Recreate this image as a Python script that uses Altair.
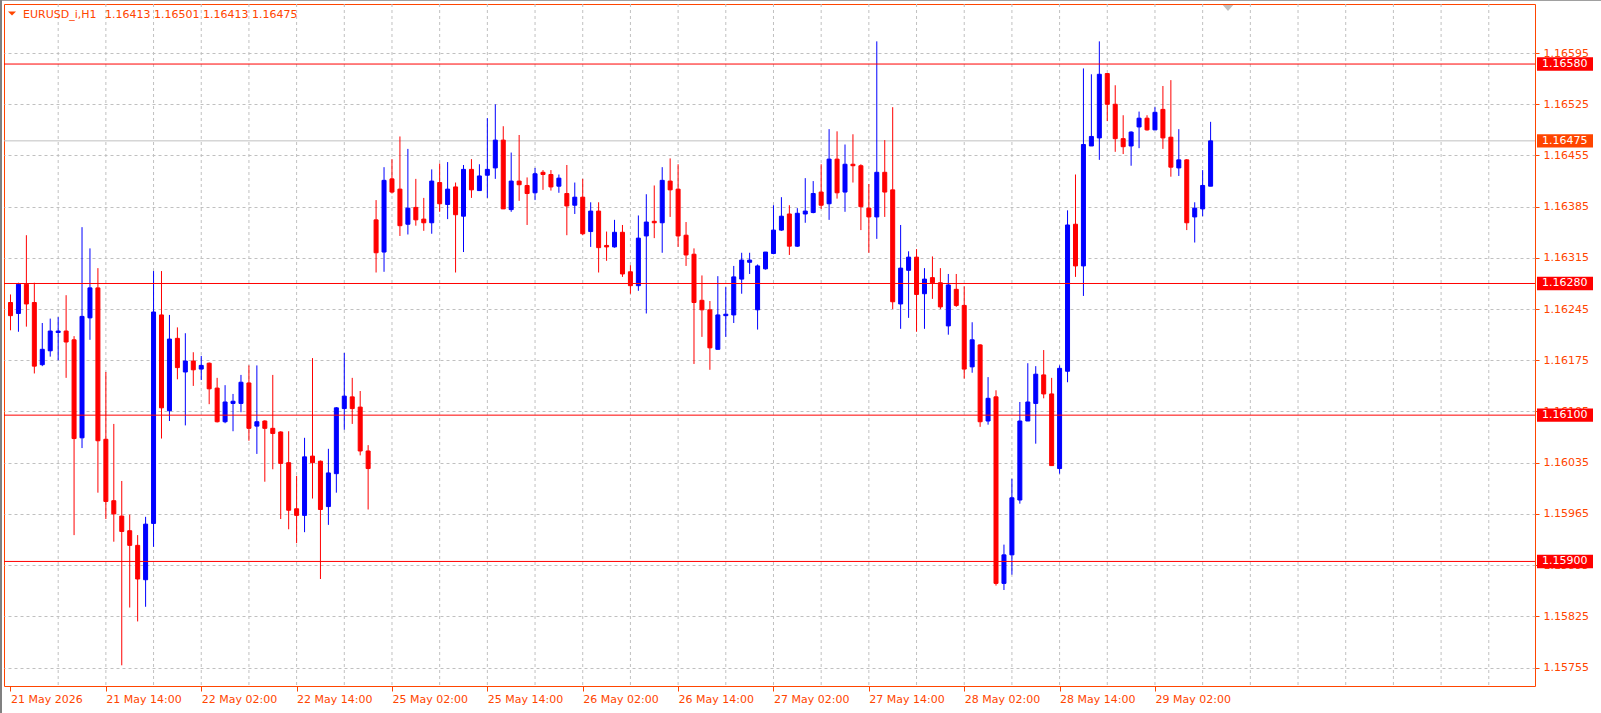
import altair as alt
import pandas as pd

# ---- candle data (EURUSD_i, H1) ----
opens = [1.16254, 1.16239, 1.16279, 1.16254, 1.16169, 1.16188, 1.16213, 1.16215, 1.16203, 1.16069,
         1.16233, 1.16274, 1.16067, 1.15983, 1.15962, 1.15942, 1.15922, 1.15875, 1.15952, 1.16237,
         1.16106, 1.16205, 1.16159, 1.16174, 1.16163, 1.16171, 1.16137, 1.16091, 1.16116, 1.16116,
         1.16144, 1.16085, 1.16092, 1.16082, 1.16077, 1.16035, 1.15972, 1.15963, 1.16044, 1.16037,
         1.15975, 1.16020, 1.16109, 1.16125, 1.16111, 1.16051, 1.16367, 1.16323, 1.16423, 1.16409,
         1.16361, 1.16384, 1.16368, 1.16363, 1.16418, 1.16388, 1.16412, 1.16372, 1.16436, 1.16407,
         1.16428, 1.16438, 1.16476, 1.16381, 1.16420, 1.16414, 1.16404, 1.16432, 1.16429, 1.16413,
         1.16403, 1.16387, 1.16398, 1.16351, 1.16379, 1.16332, 1.16330, 1.16350, 1.16296, 1.16277,
         1.16345, 1.16365, 1.16363, 1.16420, 1.16409, 1.16346, 1.16320, 1.16257, 1.16244, 1.16190,
         1.16236, 1.16237, 1.16286, 1.16309, 1.16244, 1.16300, 1.16321, 1.16353, 1.16375, 1.16331,
         1.16375, 1.16377, 1.16405, 1.16389, 1.16450, 1.16405, 1.16443, 1.16441, 1.16383, 1.16371,
         1.16432, 1.16408, 1.16252, 1.16298, 1.16316, 1.16266, 1.16288, 1.16281, 1.16222, 1.16272,
         1.16250, 1.16166, 1.16196, 1.16092, 1.16125, 1.15870, 1.15909, 1.15984, 1.16092, 1.16116,
         1.16155, 1.16129, 1.16027, 1.16160, 1.16361, 1.16304, 1.16468, 1.16479, 1.16567, 1.16525,
         1.16478, 1.16468, 1.16494, 1.16506, 1.16490, 1.16518, 1.16480, 1.16438, 1.16449, 1.16371,
         1.16382, 1.16413]
highs = [1.16265, 1.16281, 1.16346, 1.16281, 1.16226, 1.16232, 1.16234, 1.16264, 1.16208, 1.16357,
         1.16328, 1.16301, 1.16159, 1.16088, 1.16010, 1.15964, 1.15936, 1.15961, 1.16297, 1.16297,
         1.16237, 1.16220, 1.16212, 1.16186, 1.16181, 1.16172, 1.16151, 1.16141, 1.16129, 1.16155,
         1.16168, 1.16168, 1.16093, 1.16155, 1.16078, 1.16078, 1.16017, 1.16069, 1.16178, 1.16038,
         1.16054, 1.16111, 1.16185, 1.16151, 1.16133, 1.16059, 1.16394, 1.16439, 1.16450, 1.16481,
         1.16464, 1.16423, 1.16397, 1.16436, 1.16444, 1.16446, 1.16418, 1.16442, 1.16450, 1.16443,
         1.16506, 1.16525, 1.16495, 1.16459, 1.16483, 1.16425, 1.16438, 1.16435, 1.16435, 1.16429,
         1.16442, 1.16418, 1.16423, 1.16391, 1.16391, 1.16351, 1.16367, 1.16360, 1.16305, 1.16373,
         1.16402, 1.16414, 1.16439, 1.16451, 1.16443, 1.16364, 1.16328, 1.16291, 1.16256, 1.16290,
         1.16275, 1.16304, 1.16322, 1.16322, 1.16306, 1.16323, 1.16387, 1.16398, 1.16387, 1.16383,
         1.16424, 1.16420, 1.16443, 1.16491, 1.16488, 1.16470, 1.16484, 1.16443, 1.16416, 1.16611,
         1.16476, 1.16521, 1.16360, 1.16324, 1.16327, 1.16301, 1.16317, 1.16301, 1.16293, 1.16293,
         1.16276, 1.16227, 1.16197, 1.16152, 1.16134, 1.15923, 1.16013, 1.16118, 1.16171, 1.16167,
         1.16189, 1.16151, 1.16168, 1.16380, 1.16429, 1.16574, 1.16566, 1.16611, 1.16567, 1.16551,
         1.16510, 1.16488, 1.16515, 1.16510, 1.16521, 1.16550, 1.16558, 1.16491, 1.16450, 1.16391,
         1.16435, 1.16501]
lows = [1.16216, 1.16214, 1.16221, 1.16157, 1.16167, 1.16180, 1.16175, 1.16151, 1.15936, 1.16055,
        1.16203, 1.15994, 1.15958, 1.15927, 1.15758, 1.15837, 1.15818, 1.15838, 1.15920, 1.16068,
        1.16092, 1.16149, 1.16086, 1.16140, 1.16148, 1.16115, 1.16090, 1.16089, 1.16078, 1.16104,
        1.16065, 1.16047, 1.16009, 1.16026, 1.15958, 1.15944, 1.15925, 1.15940, 1.15986, 1.15876,
        1.15950, 1.15994, 1.16080, 1.16088, 1.16045, 1.15971, 1.16295, 1.16296, 1.16403, 1.16345,
        1.16347, 1.16359, 1.16352, 1.16348, 1.16378, 1.16368, 1.16295, 1.16323, 1.16397, 1.16407,
        1.16397, 1.16423, 1.16382, 1.16378, 1.16393, 1.16360, 1.16394, 1.16408, 1.16407, 1.16404,
        1.16346, 1.16375, 1.16346, 1.16330, 1.16295, 1.16311, 1.16329, 1.16289, 1.16266, 1.16270,
        1.16239, 1.16342, 1.16322, 1.16371, 1.16330, 1.16304, 1.16170, 1.16207, 1.16162, 1.16190,
        1.16207, 1.16226, 1.16266, 1.16293, 1.16217, 1.16299, 1.16320, 1.16352, 1.16319, 1.16330,
        1.16363, 1.16376, 1.16382, 1.16367, 1.16396, 1.16378, 1.16418, 1.16353, 1.16322, 1.16341,
        1.16371, 1.16245, 1.16218, 1.16233, 1.16214, 1.16218, 1.16259, 1.16245, 1.16210, 1.16248,
        1.16150, 1.16158, 1.16084, 1.16087, 1.15867, 1.15861, 1.15882, 1.15979, 1.16092, 1.16061,
        1.16123, 1.16031, 1.16020, 1.16145, 1.16289, 1.16263, 1.16468, 1.16449, 1.16502, 1.16460,
        1.16457, 1.16441, 1.16465, 1.16489, 1.16490, 1.16464, 1.16426, 1.16427, 1.16353, 1.16336,
        1.16372, 1.16413]
closes = [1.16236, 1.16279, 1.16252, 1.16167, 1.16190, 1.16215, 1.16215, 1.16200, 1.16068, 1.16235,
          1.16274, 1.16065, 1.15982, 1.15965, 1.15941, 1.15922, 1.15876, 1.15951, 1.16241, 1.16110,
          1.16204, 1.16165, 1.16174, 1.16162, 1.16168, 1.16136, 1.16091, 1.16118, 1.16119, 1.16145,
          1.16082, 1.16091, 1.16082, 1.16075, 1.16034, 1.15970, 1.15963, 1.16043, 1.16035, 1.15971,
          1.16021, 1.16110, 1.16126, 1.16109, 1.16051, 1.16027, 1.16322, 1.16421, 1.16405, 1.16359,
          1.16383, 1.16367, 1.16363, 1.16420, 1.16389, 1.16409, 1.16374, 1.16436, 1.16408, 1.16427,
          1.16436, 1.16476, 1.16382, 1.16420, 1.16415, 1.16403, 1.16430, 1.16429, 1.16412, 1.16424,
          1.16386, 1.16398, 1.16348, 1.16379, 1.16329, 1.16330, 1.16350, 1.16293, 1.16277, 1.16342,
          1.16364, 1.16363, 1.16421, 1.16408, 1.16345, 1.16319, 1.16254, 1.16244, 1.16192, 1.16237,
          1.16238, 1.16289, 1.16312, 1.16312, 1.16304, 1.16323, 1.16353, 1.16372, 1.16331, 1.16376,
          1.16379, 1.16403, 1.16387, 1.16450, 1.16404, 1.16443, 1.16441, 1.16385, 1.16371, 1.16432,
          1.16405, 1.16255, 1.16301, 1.16316, 1.16265, 1.16286, 1.16281, 1.16248, 1.16278, 1.16250,
          1.16163, 1.16203, 1.16091, 1.16123, 1.15870, 1.15909, 1.15987, 1.16092, 1.16118, 1.16156,
          1.16129, 1.16031, 1.16164, 1.16360, 1.16304, 1.16470, 1.16481, 1.16566, 1.16525, 1.16478,
          1.16467, 1.16487, 1.16506, 1.16490, 1.16514, 1.16479, 1.16439, 1.16449, 1.16363, 1.16383,
          1.16414, 1.16475]

time_label_bars = [0, 12, 24, 36, 48, 60, 72, 84, 96, 108, 120, 132, 144]
time_labels = ["21 May 2026", "21 May 14:00", "22 May 02:00", "22 May 14:00", "25 May 02:00",
               "25 May 14:00", "26 May 02:00", "26 May 14:00", "27 May 02:00", "27 May 14:00",
               "28 May 02:00", "28 May 14:00", "29 May 02:00"]
grid_bars = [6, 12, 18, 24, 30, 36, 42, 48, 54, 60, 66, 72, 78, 84, 90, 96, 102, 108, 114, 120,
             126, 132, 138, 144, 150, 156, 162, 168, 174, 180, 186]
price_ticks = [1.16595, 1.16525, 1.16455, 1.16385, 1.16315, 1.16245, 1.16175, 1.16105,
               1.16035, 1.15965, 1.15895, 1.15825, 1.15755]
level_prices = [1.16580, 1.16280, 1.16100, 1.15900]
bid_price = 1.16475
symbol_text = "EURUSD_i,H1"
ohlc_text = "1.16413 1.16501 1.16413 1.16475"

# ---- styling ----
FG = "#FF4500"
BULL = "#0000FF"
BEAR = "#FF0000"
GRID = "#C0C0C0"
FONT = "DejaVu Sans"
W, H = 1531, 682

df = pd.DataFrame({"bar": list(range(len(opens))), "open": opens, "high": highs,
                   "low": lows, "close": closes})
df["dir"] = ["up" if c >= o else "down" for o, c in zip(opens, closes)]

xscale = alt.Scale(domain=[-0.1875, 191.1875], nice=False, zero=False)
yscale = alt.Scale(domain=[1.1572972, 1.1666209], nice=False, zero=False)
cscale = alt.Scale(domain=["up", "down"], range=[BULL, BEAR])

labels_js = "[" + ",".join("'" + t + "'" for t in time_labels) + "]"
bars_js = "[" + ",".join(str(b) for b in time_label_bars) + "]"
xaxis = alt.Axis(values=time_label_bars, labelExpr=labels_js + "[indexof(" + bars_js + ", datum.value)]",
                 orient="bottom", domain=False, grid=False, ticks=True, tickSize=5, tickColor=FG,
                 labelColor=FG, labelFont=FONT, labelFontSize=11, labelAlign="left",
                 labelBaseline="top", labelPadding=2, labelFlush=False, labelOverlap=False,
                 labelBound=False, title=None)
yaxis = alt.Axis(values=price_ticks, orient="right", format=".5f", domain=False, grid=True,
                 gridColor=GRID, gridDash=[3, 3], gridWidth=1, ticks=True, tickSize=4,
                 tickColor=FG, labelColor=FG, labelFont=FONT, labelFontSize=11, labelPadding=4,
                 labelBaseline="middle", labelFlush=False, labelOverlap=False, title=None)

X = alt.X("bar:Q", scale=xscale, axis=xaxis)

vgrid = alt.Chart(pd.DataFrame({"bar": grid_bars})).mark_rule(
    color=GRID, strokeDash=[3, 3], strokeWidth=1).encode(x=X)

bid_df = pd.DataFrame({"price": [bid_price], "label": [f"{bid_price:.5f}"]})
bid_line = alt.Chart(bid_df).mark_rule(color=GRID, strokeWidth=1).encode(
    y=alt.Y("price:Q", scale=yscale, axis=yaxis))

base = alt.Chart(df)
wicks = base.mark_rule(strokeWidth=1, clip=True).encode(
    x=X, y=alt.Y("low:Q", scale=yscale, axis=yaxis), y2="high:Q",
    color=alt.Color("dir:N", scale=cscale, legend=None))
bodies = base.mark_bar(size=4, strokeWidth=1, clip=True).encode(
    x=X, y=alt.Y("open:Q", scale=yscale, axis=yaxis), y2="close:Q",
    color=alt.Color("dir:N", scale=cscale, legend=None),
    stroke=alt.Stroke("dir:N", scale=cscale, legend=None))

lev_df = pd.DataFrame({"price": level_prices, "label": [f"{p:.5f}" for p in level_prices]})
lev_lines = alt.Chart(lev_df).mark_rule(color=BEAR, strokeWidth=1).encode(
    y=alt.Y("price:Q", scale=yscale, axis=yaxis))

BOX = "M-1,-0.24L1,-0.24L1,0.24L-1,0.24Z"
lev_box = alt.Chart(lev_df).mark_point(shape=BOX, filled=True, size=56 * 56, opacity=1,
                                        strokeWidth=0).encode(
    x=alt.value(W + 30), y=alt.Y("price:Q", scale=yscale, axis=yaxis), fill=alt.value(BEAR))
lev_txt = alt.Chart(lev_df).mark_text(align="left", baseline="middle", font=FONT, fontSize=11,
                                      color="white").encode(
    x=alt.value(W + 7), y=alt.Y("price:Q", scale=yscale, axis=yaxis), text="label:N")
bid_box = alt.Chart(bid_df).mark_point(shape=BOX, filled=True, size=56 * 56, opacity=1,
                                       strokeWidth=0).encode(
    x=alt.value(W + 30), y=alt.Y("price:Q", scale=yscale, axis=yaxis), fill=alt.value(FG))
bid_txt = alt.Chart(bid_df).mark_text(align="left", baseline="middle", font=FONT, fontSize=11,
                                      color="white").encode(
    x=alt.value(W + 7), y=alt.Y("price:Q", scale=yscale, axis=yaxis), text="label:N")

tri = alt.Chart(pd.DataFrame({"t": [0]})).mark_point(
    shape="M-1,-0.5L1,-0.5L0,0.5Z", filled=True, size=64, opacity=1, strokeWidth=0,
    color=FG).encode(x=alt.value(8), y=alt.value(9.5))
sym = alt.Chart(pd.DataFrame({"t": [symbol_text]})).mark_text(
    align="left", baseline="middle", font=FONT, fontSize=11, color=FG).encode(
    x=alt.value(19), y=alt.value(10.5), text="t:N")
ohlc = alt.Chart(pd.DataFrame({"t": [ohlc_text]})).mark_text(
    align="left", baseline="middle", font=FONT, fontSize=11, color=FG).encode(
    x=alt.value(101), y=alt.value(10.5), text="t:N")
shift = alt.Chart(pd.DataFrame({"t": [0]})).mark_point(
    shape="M-1,-0.55L1,-0.55L0,0.55Z", filled=True, size=110, opacity=1, strokeWidth=0,
    color=GRID).encode(x=alt.value(1224), y=alt.value(4))

# window edge lines (top and left) of the terminal chart window
top_edge = alt.Chart(pd.DataFrame({"t": [0]})).mark_rule(color="#A0A0A0", strokeWidth=1).encode(
    x=alt.value(-4), x2=alt.value(1597), y=alt.value(-3.5))
left_edge = alt.Chart(pd.DataFrame({"t": [0]})).mark_rule(color="#808080", strokeWidth=2).encode(
    x=alt.value(-3), y=alt.value(-4), y2=alt.value(709))

chart = alt.layer(vgrid, bid_line, wicks, bodies, lev_lines, lev_box, lev_txt, bid_box, bid_txt,
                  tri, sym, ohlc, shift, top_edge, left_edge).properties(
    width=W, height=H,
    autosize=alt.AutoSizeParams(type="none"),
    padding={"left": 4, "top": 4, "right": 66, "bottom": 27},
    background="white",
).configure_view(stroke=FG, strokeWidth=1)

chart.save("out.html", embed_options={"renderer": "svg", "actions": False})
